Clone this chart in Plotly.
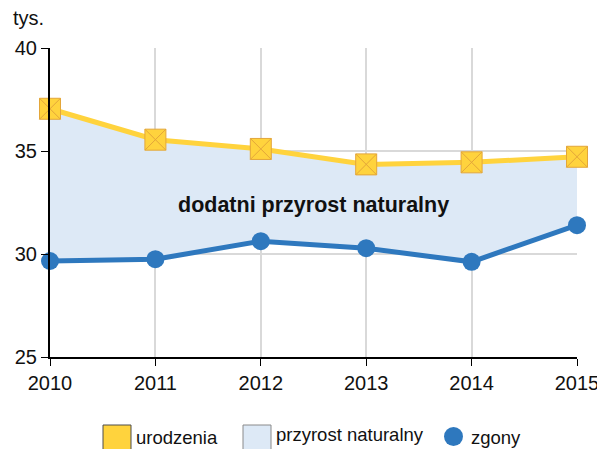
import plotly.graph_objects as go

years = [2010, 2011, 2012, 2013, 2014, 2015]
urodzenia = [37.05, 35.55, 35.1, 34.35, 34.45, 34.72]
zgony = [29.66, 29.75, 30.62, 30.28, 29.62, 31.4]
y_ticks = [25, 30, 35, 40]
legend_labels = ["urodzenia", "przyrost naturalny", "zgony"]

YEL = "#ffd33d"
YEL_LINE = "#e3a63a"
BLUE = "#2e78be"
FILL = "#dde9f6"
FONT = "Liberation Sans, Arial, sans-serif"
TXT = "#111111"

# page offset (default body margin) compensation
OFF = 8
FW, FH = 605 - OFF, 449 - OFF
# plot area in reference px: x 50..577, y 48..357
L, R, T, B = 50, 577, 48, 357
W, H = R - L, B - T
def px(x):
    return (x - L) / W
def py(y):
    return (B - y) / H

fig = go.Figure()
fig.add_trace(go.Scatter(x=years, y=zgony, mode="lines", line=dict(width=0, color=FILL),
                         showlegend=False, hoverinfo="skip"))
fig.add_trace(go.Scatter(x=years, y=urodzenia, mode="lines", line=dict(width=0, color=FILL),
                         fill="tonexty", fillcolor=FILL, showlegend=False, hoverinfo="skip"))
fig.add_trace(go.Scatter(x=years, y=urodzenia, mode="lines+markers", name="urodzenia",
                         line=dict(color=YEL, width=5),
                         marker=dict(symbol="square-x", size=21, color=YEL,
                                     line=dict(color=YEL_LINE, width=1)),
                         showlegend=False, cliponaxis=False))
fig.add_trace(go.Scatter(x=years, y=zgony, mode="lines+markers", name="zgony",
                         line=dict(color=BLUE, width=5),
                         marker=dict(symbol="circle", size=18, color=BLUE),
                         showlegend=False, cliponaxis=False))

fig.add_annotation(x=2012.5, y=32.4, text="<b>dodatni przyrost naturalny</b>",
                   showarrow=False, font=dict(size=21.5, color=TXT, family=FONT))
fig.add_annotation(xref="paper", yref="paper", x=px(11), y=py(18),
                   xanchor="left", yanchor="middle", text="tys.", showarrow=False,
                   font=dict(size=20, color=TXT, family=FONT))

# custom legend
shapes = [
    dict(type="rect", xref="paper", yref="paper", x0=px(103), x1=px(131), y0=py(452), y1=py(425),
         fillcolor="#ffd33d", line=dict(color="#4d4d4d", width=1), layer="above"),
    dict(type="rect", xref="paper", yref="paper", x0=px(243), x1=px(271), y0=py(452), y1=py(425),
         fillcolor=FILL, line=dict(color="#8a8a8a", width=1), layer="above"),
    dict(type="circle", xref="paper", yref="paper", x0=px(444), x1=px(463), y0=py(446), y1=py(427),
         fillcolor=BLUE, line=dict(color=BLUE, width=0), layer="above"),
]
for xl, label, yc in [(137, legend_labels[0], 437), (277, legend_labels[1], 435), (472, legend_labels[2], 437)]:
    fig.add_annotation(xref="paper", yref="paper", x=px(xl), y=py(yc), xanchor="left",
                       yanchor="middle", text=label, showarrow=False, xshift=-3,
                       font=dict(size=18.5, color=TXT, family=FONT))

fig.update_layout(
    width=FW, height=FH,
    margin=dict(l=L - OFF, r=605 - R, t=T - OFF, b=449 - B),
    plot_bgcolor="white", paper_bgcolor="white",
    font=dict(family=FONT, size=20, color=TXT),
    showlegend=False,
    shapes=shapes,
    xaxis=dict(range=[2010, 2015], tickvals=years, showgrid=True, gridcolor="#d9d9d9",
               gridwidth=2, showline=True, linecolor="black", linewidth=2,
               ticks="outside", ticklen=7, tickcolor="black", zeroline=False,
               tickfont=dict(size=20), automargin=False),
    yaxis=dict(range=[25, 40], tickvals=y_ticks, showgrid=True, gridcolor="#d9d9d9",
               gridwidth=2, showline=True, linecolor="black", linewidth=2,
               ticks="outside", ticklen=7, tickcolor="black", zeroline=False,
               tickfont=dict(size=20), automargin=False),
)

fig.write_html("out.html")
